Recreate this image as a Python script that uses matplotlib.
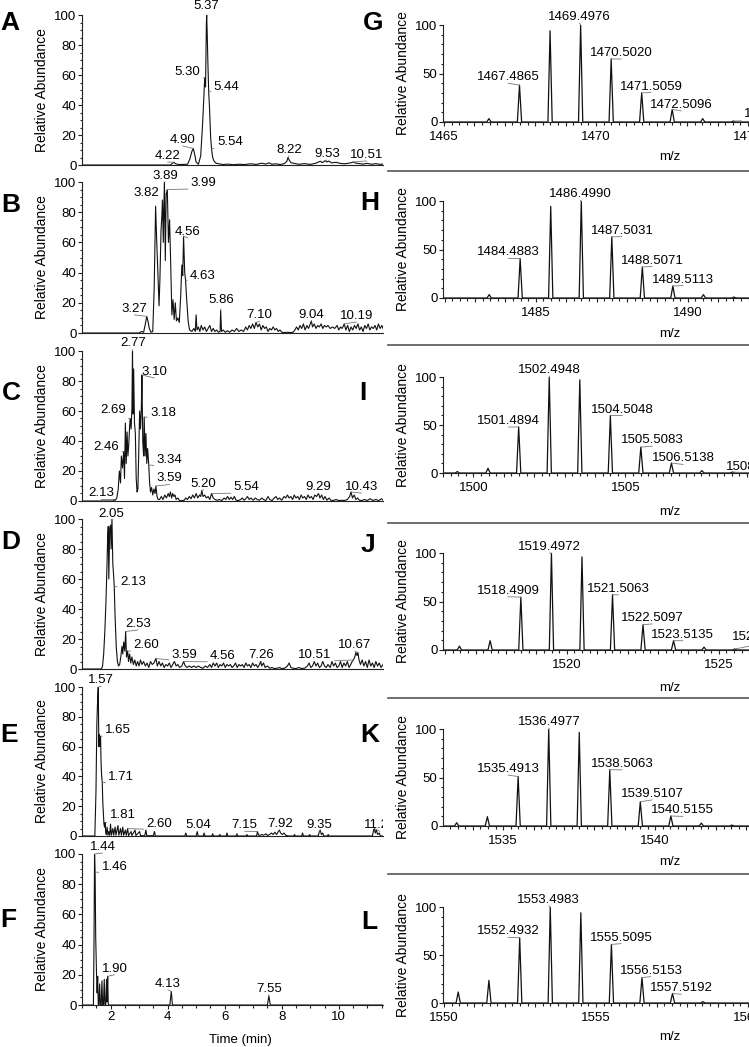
import numpy as np
import matplotlib.pyplot as plt
from matplotlib.ticker import MultipleLocator, FuncFormatter
from matplotlib.patches import Rectangle
from matplotlib.lines import Line2D

plt.rcParams['font.family'] = ['Liberation Sans', 'DejaVu Sans']

W, H = 749, 1047

# ---------------- chromatograms: time (min) / relative abundance ----------------
a_t = [1.00, 4.10, 4.16, 4.22, 4.28, 4.40, 4.70, 4.78, 4.85, 4.90, 4.95, 5.00, 5.08, 5.16, 5.22,
       5.27, 5.30, 5.33, 5.36, 5.37, 5.39, 5.41, 5.44, 5.47, 5.51, 5.54, 5.58, 5.63, 5.70, 5.80,
       5.95, 6.10, 6.30, 6.50, 6.70, 6.90, 7.10, 7.30, 7.45, 7.55, 7.65, 7.80, 7.95, 8.10, 8.18,
       8.22, 8.27, 8.33, 8.45, 8.60, 8.80, 9.00, 9.20, 9.35, 9.42, 9.48, 9.53, 9.58, 9.65, 9.75,
       9.90, 10.05, 10.20, 10.35, 10.45, 10.51, 10.58, 10.70, 10.85, 11.00, 11.15, 11.30, 11.45, 11.55]
a_y = [0, 0, 1, 1.8, 0.8, 0.3, 0.5, 4, 9, 11, 7, 2, 0.5, 6, 25,
       45, 58, 52, 95, 100, 87, 70, 49, 38, 18, 11, 5, 2.5, 1.2, 0.8,
       0.3, 0.6, 0.2, 0.5, 0.3, 0.8, 0.4, 1.2, 0.6, 1.5, 0.5, 0.8, 0.3, 1.0, 2.5,
       5, 3, 1.5, 1.0, 0.5, 0.9, 0.4, 1.2, 2.5, 1.6, 2.2, 3, 2.0, 2.6, 1.4,
       1.8, 1.1, 0.8, 1.2, 1.6, 2.0, 1.3, 1.0, 0.6, 1.1, 0.5, 0.9, 0.4, 0.7]

b_t = [1.00, 3.00, 3.08, 3.16, 3.22, 3.27, 3.31, 3.36, 3.42, 3.48, 3.53, 3.58, 3.62, 3.66, 3.70,
       3.73, 3.77, 3.80, 3.82, 3.85, 3.87, 3.89, 3.92, 3.95, 3.99, 4.03, 4.07, 4.11, 4.15, 4.19,
       4.23, 4.27, 4.31, 4.36, 4.41, 4.46, 4.50, 4.53, 4.56, 4.60, 4.63, 4.67, 4.72, 4.77,
       4.85, 4.92, 4.97, 5.00, 5.03, 5.08, 5.13, 5.18, 5.24, 5.30, 5.36, 5.42, 5.48, 5.54, 5.60,
       5.66, 5.72, 5.78, 5.84, 5.86, 5.89, 5.95, 6.02, 6.10, 6.18, 6.26, 6.34, 6.42, 6.50, 6.58,
       6.66, 6.74, 6.80, 6.86, 6.92, 6.98, 7.04, 7.10, 7.16, 7.22, 7.28, 7.34, 7.40, 7.46, 7.52,
       7.58, 7.64, 7.70, 7.76, 7.82, 7.88, 7.94, 8.00, 8.10, 8.20, 8.30, 8.40, 8.46, 8.52, 8.58,
       8.64, 8.70, 8.76, 8.82, 8.88, 8.94, 9.00, 9.04, 9.08, 9.14, 9.20, 9.26, 9.32, 9.38, 9.44,
       9.50, 9.56, 9.62, 9.70, 9.78, 9.86, 9.94, 10.00, 10.06, 10.12, 10.19, 10.25, 10.31, 10.37,
       10.43, 10.49, 10.55, 10.61, 10.67, 10.73, 10.79, 10.85, 10.91, 10.97, 11.03, 11.09, 11.15,
       11.21, 11.27, 11.33, 11.39, 11.45, 11.51, 11.55]
b_y = [0, 0, 1, 0.5, 6, 11, 8, 3, 0.5, 1, 30, 84, 60, 40, 18,
       35, 68, 78, 88, 60, 85, 100, 48, 92, 95, 60, 75, 45, 12, 22,
       9, 20, 8, 10, 7, 25, 45, 38, 64, 40, 35, 22, 8, 2,
       1, 3, 1, 12, 2, 4, 1, 5, 2, 4, 1, 3, 5, 1, 3,
       1, 2, 0.5, 1, 15, 1, 2, 0.5, 1.5, 0.5, 2, 1, 3, 1, 2,
       1, 4, 2, 5, 3, 6, 3, 7, 4, 6, 2, 5, 3, 4, 1,
       3, 2, 4, 2, 3, 1, 2, 0.5, 0.3, 0.5, 0.3, 0.5, 2, 4, 2,
       5, 3, 6, 2, 5, 3, 6, 8, 4, 6, 3, 5, 4, 6, 3,
       5, 4, 5, 3, 4, 3, 5, 2, 4, 3, 6, 2, 5, 1,
       4, 2, 5, 3, 6, 2, 4, 1, 5, 3, 6, 2, 4,
       3, 5, 2, 6, 3, 5, 3]

c_t = [1.00, 2.10, 2.13, 2.17, 2.22, 2.27, 2.31, 2.35, 2.38, 2.42, 2.46, 2.49, 2.52, 2.55, 2.58,
       2.61, 2.64, 2.67, 2.69, 2.72, 2.75, 2.77, 2.79, 2.81, 2.84, 2.87, 2.90, 2.93, 2.96, 2.99,
       3.02, 3.05, 3.08, 3.10, 3.13, 3.16, 3.18, 3.21, 3.24, 3.27, 3.30, 3.34, 3.37, 3.40, 3.44,
       3.48, 3.52, 3.56, 3.59, 3.63, 3.67,
       3.72, 3.78, 3.84, 3.90, 3.96, 4.02, 4.06, 4.10, 4.14, 4.18, 4.22, 4.26, 4.30, 4.36, 4.42,
       4.50, 4.58, 4.64, 4.70, 4.76, 4.82, 4.88, 4.94, 5.00, 5.06, 5.12, 5.16, 5.20, 5.24, 5.30,
       5.36, 5.42, 5.48, 5.54, 5.60, 5.66, 5.74, 5.82, 5.90, 5.98, 6.04, 6.10, 6.16, 6.22, 6.28,
       6.34, 6.40, 6.48, 6.56, 6.62, 6.68, 6.74, 6.80, 6.86, 6.92, 7.00, 7.08, 7.14, 7.22, 7.30,
       7.36, 7.44, 7.52, 7.58, 7.66, 7.74, 7.80, 7.86, 7.92, 8.00, 8.08, 8.14, 8.20, 8.26, 8.32,
       8.38, 8.44, 8.50, 8.56, 8.62, 8.68, 8.74, 8.80, 8.86, 8.92, 8.98, 9.04, 9.10, 9.16, 9.22,
       9.29, 9.34, 9.40, 9.46, 9.52, 9.58, 9.66, 9.72, 9.80, 9.90, 10.00, 10.10, 10.20, 10.30,
       10.38, 10.43, 10.48, 10.54, 10.60, 10.66, 10.72, 10.80, 10.90, 11.00, 11.10, 11.20, 11.30,
       11.40, 11.50, 11.55]
c_y = [0, 0, 1, 0.5, 2, 8, 20, 12, 30, 22, 33, 15, 52, 25, 46,
       30, 38, 50, 55, 48, 62, 100, 58, 88, 52, 45, 15, 6, 8, 35,
       60, 48, 62, 84, 40, 30, 56, 30, 45, 25, 35, 24, 12, 6, 9,
       4, 8, 5, 10, 3, 1,
       1, 3, 1, 4, 2, 5, 3, 6, 2, 5, 3, 4, 1, 2, 0.3,
       0.2, 0.5, 2, 1, 3, 1.5, 4, 2, 5, 2, 4, 3, 7, 3, 4,
       2, 3, 1, 5, 2, 1, 0.5, 1, 0.3, 2, 1, 3, 1, 2.5, 1,
       3, 0.5, 0.3, 1, 2, 0.5, 1.5, 3, 1, 2, 0.5, 2, 1, 0.5, 2,
       1, 0.3, 3, 1, 0.3, 2, 3, 1, 2, 0.5, 3, 2, 4, 2, 3,
       1, 4, 2, 3, 1, 4, 2, 3, 1, 4, 2, 3, 1, 4, 3,
       5, 2, 4, 1, 3, 0.5, 2, 0.5, 0.3, 1, 0.3, 0.5, 0.3, 1,
       3, 6, 2, 4, 1, 2, 0.5, 0.3, 1, 0.3, 1.5, 0.3, 1,
       0.3, 1.5, 0.5]

d_t = [1.00, 1.68, 1.72, 1.76, 1.80, 1.84, 1.87, 1.90, 1.92, 1.94, 1.97, 2.00, 2.02, 2.05, 2.08,
       2.11, 2.13, 2.16, 2.20, 2.24, 2.28, 2.32, 2.36, 2.40, 2.43, 2.46, 2.50, 2.53, 2.56, 2.60,
       2.63, 2.67, 2.71, 2.75, 2.80, 2.85, 2.90,
       2.95, 3.00, 3.05, 3.10, 3.16, 3.22, 3.28, 3.34, 3.40, 3.46, 3.52, 3.59, 3.64, 3.70, 3.76,
       3.82, 3.88, 3.94, 4.00, 4.06, 4.12, 4.18, 4.24, 4.30, 4.36, 4.42, 4.50, 4.56, 4.62, 4.68,
       4.76, 4.84, 4.92, 5.00, 5.08, 5.16, 5.24, 5.32, 5.40, 5.48, 5.54, 5.60, 5.66, 5.72, 5.78,
       5.84, 5.90, 5.96, 6.02, 6.08, 6.14, 6.20, 6.26, 6.32, 6.38, 6.44, 6.50, 6.56, 6.62, 6.68,
       6.74, 6.80, 6.86, 6.92, 6.98, 7.04, 7.10, 7.16, 7.22, 7.26, 7.30, 7.36, 7.42, 7.50, 7.58,
       7.66, 7.74, 7.84, 7.92, 8.00, 8.10, 8.20, 8.26, 8.32, 8.40, 8.50, 8.60, 8.70, 8.80, 8.90,
       8.96, 9.02, 9.08, 9.14, 9.20, 9.26, 9.32, 9.38, 9.44, 9.50, 9.56, 9.62, 9.70, 9.76, 9.82,
       9.88, 9.94, 10.00, 10.06, 10.12, 10.18, 10.24, 10.30, 10.36, 10.42, 10.47, 10.51, 10.56,
       10.60, 10.64, 10.67, 10.71, 10.76, 10.82, 10.88, 10.94, 11.00, 11.06, 11.12, 11.18, 11.24,
       11.30, 11.36, 11.42, 11.48, 11.55]
d_y = [0, 0, 2, 10, 25, 45, 65, 88, 95, 60, 94, 96, 80, 100, 70,
       62, 55, 35, 15, 5, 2, 3, 8, 15, 10, 18, 12, 25, 8, 12,
       5, 10, 4, 8, 3, 6, 2,
       5, 2, 6, 3, 5, 2, 4, 1, 5, 3, 4, 7, 2, 5, 2,
       4, 1, 3, 2, 4, 1, 3, 5, 2, 3, 1, 2, 5, 2, 1,
       2, 1, 2, 1, 2, 1, 0.5, 2, 1, 3, 1, 4, 2, 4, 1,
       3, 2, 4, 1, 3, 2, 3, 1, 2, 4, 1, 3, 2, 3, 1,
       4, 2, 3, 1, 4, 2, 3, 1, 3, 5, 2, 4, 1, 2, 0.5,
       1, 0.3, 0.5, 1, 0.3, 0.5, 2, 4, 1, 0.5, 0.3, 1, 0.3, 0.5, 2,
       4, 1, 2, 5, 2, 4, 1, 2, 5, 2, 1, 3, 1, 5, 2,
       4, 1, 2, 5, 1, 4, 2, 5, 1, 3, 5, 6, 8,
       11, 9, 11, 6, 3, 6, 2, 5, 1, 6, 2, 4, 1,
       5, 2, 4, 1, 3]

e_t = [1.00, 1.45, 1.49, 1.52, 1.55, 1.57, 1.59, 1.61, 1.63, 1.65, 1.67, 1.69, 1.71, 1.73, 1.75,
       1.77, 1.79, 1.81, 1.83, 1.85,
       1.88, 1.91, 1.94, 1.97, 2.00, 2.03, 2.08, 2.11, 2.16, 2.19, 2.26, 2.29, 2.35, 2.38, 2.43,
       2.46, 2.52, 2.55, 2.60, 2.63, 2.72, 2.75, 2.86, 2.89, 3.02, 3.05, 3.20, 3.24, 3.27, 3.50,
       3.54, 3.57, 4.60, 4.64, 4.67, 5.00, 5.04, 5.07, 5.25, 5.28, 5.31, 5.55, 5.58, 5.61, 5.80,
       5.83, 5.86, 6.05, 6.08, 6.11, 6.40, 6.43, 6.46, 6.75, 6.78, 6.81, 7.12, 7.15, 7.19, 7.25,
       7.30, 7.36, 7.45, 7.50, 7.58, 7.64, 7.70, 7.76, 7.82, 7.88, 7.92, 7.96, 8.02, 8.08, 8.14,
       8.25, 8.42, 8.45, 8.48, 8.70, 8.73, 8.76, 8.95, 8.98, 9.01, 9.28, 9.32, 9.35, 9.39, 9.44,
       9.47, 9.60, 9.63, 9.66, 11.18, 11.22, 11.25, 11.28, 11.32, 11.36, 11.42, 11.46, 11.55]
e_y = [0, 0, 30, 75, 93, 100, 60, 68, 60, 67, 48, 40, 36, 22, 15,
       8, 6, 9, 3, 1,
       6, 0.5, 3, 0.5, 8, 0.5, 5, 0.5, 6, 0.5, 7, 0.5, 5, 0.5, 6,
       0.5, 4, 0.5, 5, 0.3, 3, 0.3, 4, 0.3, 3, 0.2, 0.2, 4, 0.2, 0.2,
       3, 0, 0, 2, 0, 0, 3, 0, 0, 2, 0, 0, 1.5, 0, 0,
       1, 0, 0, 2, 0, 0, 1.5, 0, 0, 1, 0, 0, 3, 0.5, 0.5,
       1, 0.5, 1.5, 0.3, 1, 2, 1, 2.5, 1, 3, 4, 2, 1, 2, 0.5,
       0, 0, 1, 0, 0, 2, 0, 0, 1, 0, 0, 3, 4, 1, 2,
       0, 0, 1, 0, 0, 4, 5, 2, 4, 1, 2, 0, 0]

f_t = [1.00, 1.40, 1.42, 1.44, 1.46, 1.48, 1.51, 1.53, 1.55, 1.57, 1.59, 1.62, 1.64, 1.67, 1.70,
       1.72, 1.75, 1.78, 1.80, 1.83, 1.86, 1.88, 1.90, 1.92, 1.95, 4.08, 4.13, 4.17, 7.50, 7.55,
       7.60, 11.55]
f_y = [0, 0, 40, 100, 88, 45, 20, 8, 19, 0.5, 0, 14, 0.5, 0, 16,
       0.5, 0, 17, 0.5, 0, 17, 2, 19, 0.5, 0, 0, 9, 0, 0, 6,
       0, 0]

# labelled retention times for each chromatogram
a_pk = [5.37, 5.30, 5.44, 4.90, 5.54, 4.22, 8.22, 9.53, 10.51]
b_pk = [3.89, 3.82, 3.99, 4.56, 4.63, 3.27, 5.86, 7.10, 9.04, 10.19]
c_pk = [2.77, 3.10, 2.69, 3.18, 2.46, 3.34, 3.59, 2.13, 5.20, 5.54, 9.29, 10.43]
d_pk = [2.05, 2.13, 2.53, 2.60, 3.59, 4.56, 7.26, 10.51, 10.67]
e_pk = [1.57, 1.65, 1.71, 1.81, 2.60, 5.04, 7.15, 7.92, 9.35, 11.25]
f_pk = [1.44, 1.46, 1.90, 4.13, 7.55]

# where each label text sits (time, abundance of text baseline)
a_lab = [(5.37, 104), (4.70, 60), (6.07, 50), (4.53, 14.7), (6.18, 13.3), (4.00, 4),
         (8.25, 8), (9.58, 5.3), (10.98, 4.7)]
b_lab = [(3.92, 102), (3.25, 91), (5.26, 97.5), (4.71, 65), (5.24, 36), (2.84, 14),
         (5.88, 19.7), (7.23, 9.7), (9.04, 9.7), (10.62, 9.3)]
c_lab = [(2.78, 103), (3.54, 84), (2.08, 58.5), (3.84, 57), (1.85, 34), (4.07, 25),
         (4.07, 13), (1.67, 3), (5.26, 9.5), (6.76, 7.3), (9.27, 7.3), (10.80, 7.3)]
d_lab = [(2.02, 101.5), (2.78, 56), (2.96, 28), (3.25, 13.8), (4.60, 7), (5.94, 6.7),
         (7.29, 7), (9.16, 7), (10.56, 13.8)]
e_lab = [(1.67, 102.5), (2.26, 69), (2.37, 37.6), (2.43, 12), (3.72, 6.2), (5.06, 5.2),
         (6.70, 5.2), (7.93, 6.2), (9.33, 5.2), (11.44, 5.2)]
f_lab = [(1.72, 102.6), (2.14, 89.4), (2.14, 22), (4.01, 12), (7.55, 8.8)]

# ---------------- mass spectra: m/z / relative abundance ----------------
g_mz = [1466.48, 1467.4865, 1468.4920, 1469.4976, 1470.5020, 1471.5059, 1472.5096, 1473.5131, 1474.5168]
g_in = [3.5, 38, 94, 100, 65, 30, 13, 3.5, 1]
h_mz = [1483.47, 1484.4883, 1485.4935, 1486.4990, 1487.5031, 1488.5071, 1489.5113, 1490.5150, 1491.52]
h_in = [3.5, 40.6, 94.5, 100, 63, 32, 12.4, 3.5, 1]
i_mz = [1499.47, 1500.48, 1501.4894, 1502.4948, 1503.4998, 1504.5048, 1505.5083, 1506.5138, 1507.5170, 1508.5210]
i_in = [1.5, 5, 48, 100, 97, 60, 27, 10.4, 2.5, 1]
j_mz = [1516.47, 1517.48, 1518.4909, 1519.4972, 1520.5020, 1521.5063, 1522.5097, 1523.5135, 1524.5170, 1525.5210]
j_in = [4, 9.6, 54.5, 100, 96, 57, 26, 9.6, 3, 1]
k_mz = [1533.47, 1534.48, 1535.4913, 1536.4977, 1537.5020, 1538.5063, 1539.5107, 1540.5155, 1541.5190, 1542.52]
k_in = [3.4, 9.6, 51, 100, 96.5, 58, 25, 10.3, 3, 1]
l_mz = [1550.47, 1551.48, 1552.4932, 1553.4983, 1554.5040, 1555.5095, 1556.5153, 1557.5192, 1558.52]
l_in = [11.5, 23.6, 68, 100, 94, 61, 26.5, 10, 1.5]

# labelled m/z values and where their text sits (m/z, abundance of text baseline)
g_pk = [1467.4865, 1469.4976, 1470.5020, 1471.5059, 1472.5096, 1474.5168]
g_lab = [(1467.11, 43), (1469.46, 105), (1470.83, 68), (1471.81, 33.5), (1472.81, 14.5), (1475.92, 5)]
h_pk = [1484.4883, 1486.4990, 1487.5031, 1488.5071, 1489.5113]
h_lab = [(1484.10, 44), (1486.46, 104), (1487.84, 66.4), (1488.83, 35.5), (1489.84, 15.9)]
i_pk = [1501.4894, 1502.4948, 1504.5048, 1505.5083, 1506.5138, 1508.5210]
i_lab = [(1501.16, 51), (1502.51, 104), (1504.90, 63), (1505.89, 31), (1506.90, 12), (1509.33, 3)]
j_pk = [1518.4909, 1519.4972, 1521.5063, 1522.5097, 1523.5135, 1525.5210]
j_lab = [(1518.07, 58), (1519.43, 103), (1521.70, 60), (1522.81, 30), (1523.82, 12.7), (1526.46, 9.8)]
k_pk = [1535.4913, 1536.4977, 1538.5063, 1539.5107, 1540.5155]
k_lab = [(1535.17, 55.5), (1536.52, 104), (1538.91, 61), (1539.90, 30), (1540.91, 13)]
l_pk = [1552.4932, 1553.4983, 1555.5095, 1556.5153, 1557.5192]
l_lab = [(1552.11, 71.5), (1553.45, 104.5), (1555.83, 65), (1556.81, 30.6), (1557.81, 12.2)]
spec_xmin = [1464.97, 1481.95, 1499.0, 1515.93, 1533.02, 1549.97]

# ---------------- layout (pixels) ----------------
left_top = [15, 182, 351, 519, 687, 854]
left_bot = [165, 333, 501, 669, 836, 1005]
right_top = [25, 201, 377, 553, 729, 907]
right_bot = [122, 298, 473, 650, 826, 1003]
left_letter = [('A', 10, 23), ('B', 11, 205), ('C', 11, 393), ('D', 11, 542), ('E', 9, 735), ('F', 8, 920)]
right_letter = [('G', 373, 23), ('H', 370, 203), ('I', 363, 393), ('J', 368, 545), ('K', 370, 735), ('L', 369, 922)]
mz_label_y = [157, 334, 512, 688, 862, 1037]
sep_y = [171, 345, 523, 698, 874]
PX_PER_MZ = 30.4
FS = 9.5

fig = plt.figure(figsize=(W / 100, H / 100), dpi=100)


def px_axes(x0, top, x1, bot):
    return fig.add_axes([x0 / W, 1 - bot / H, (x1 - x0) / W, (bot - top) / H])


def style(ax):
    for s in ['top', 'right']:
        ax.spines[s].set_visible(False)
    for s in ['left', 'bottom']:
        ax.spines[s].set_linewidth(0.8)
        ax.spines[s].set_color('#222222')
    ax.tick_params(which='both', direction='out', color='#222222', width=0.8, labelsize=FS)
    ax.tick_params(axis='y', which='major', length=3, pad=1)
    ax.tick_params(axis='y', which='minor', length=1.6)


def label_peaks(ax, peaks, heights, pos, fmt, clip=None):
    for p, hgt, (lx, ly) in zip(peaks, heights, pos):
        a = ax.annotate(fmt.format(p), xy=(p, hgt), xytext=(lx, ly), ha='center', va='baseline',
                        fontsize=FS, annotation_clip=False,
                        arrowprops=dict(arrowstyle='-', color='#777777', lw=0.6,
                                        shrinkA=0, shrinkB=0, relpos=(0.5, 0)))
        if clip is not None:
            a.set_clip_path(clip)


chroms = [(a_t, a_y, a_pk, a_lab), (b_t, b_y, b_pk, b_lab), (c_t, c_y, c_pk, c_lab),
          (d_t, d_y, d_pk, d_lab), (e_t, e_y, e_pk, e_lab), (f_t, f_y, f_pk, f_lab)]

for i, (t, y, pk, lab) in enumerate(chroms):
    ax = px_axes(82, left_top[i], 383, left_bot[i])
    style(ax)
    ax.plot(t, y, color='#111111', lw=0.8)
    ax.set_xlim(1.0, 11.55)
    ax.set_ylim(0, 100)
    ax.yaxis.set_major_locator(MultipleLocator(20))
    ax.yaxis.set_minor_locator(MultipleLocator(5))
    # labels past the right edge get cut, like the original
    clip = Rectangle((0, -0.2), 1, 1.5, transform=ax.transAxes)
    label_peaks(ax, pk, np.interp(pk, t, y), lab, '{:.2f}', clip=clip)
    if i < 5:
        ax.tick_params(axis='x', which='both', bottom=False, labelbottom=False)
    else:
        ax.xaxis.set_major_locator(MultipleLocator(2))
        ax.xaxis.set_minor_locator(MultipleLocator(0.5))
        ax.tick_params(axis='x', which='major', length=3, pad=1.5)
        ax.tick_params(axis='x', which='minor', length=2)
    fig.text(42 / W, 1 - (left_top[i] + left_bot[i]) / 2 / H, 'Relative Abundance',
             rotation=90, ha='center', va='center', fontsize=10)

spectra = [(g_mz, g_in, g_pk, g_lab), (h_mz, h_in, h_pk, h_lab), (i_mz, i_in, i_pk, i_lab),
           (j_mz, j_in, j_pk, j_lab), (k_mz, k_in, k_pk, k_lab), (l_mz, l_in, l_pk, l_lab)]

hw = 0.07  # half width of a profile peak
for i, (mz, inten, pk, lab) in enumerate(spectra):
    lo = spec_xmin[i]
    hi = lo + 11
    ax = px_axes(443, right_top[i], 443 + 11 * PX_PER_MZ, right_bot[i])
    style(ax)
    xs, ys = [lo], [0]
    for m, v in zip(mz, inten):
        xs += [m - hw, m, m + hw]
        ys += [0, v, 0]
    xs.append(hi)
    ys.append(0)
    ax.plot(xs, ys, color='#111111', lw=0.9)
    ax.set_xlim(lo, hi)
    ax.set_ylim(0, 100)
    ax.yaxis.set_major_locator(MultipleLocator(50))
    ax.yaxis.set_minor_locator(MultipleLocator(10))
    ax.xaxis.set_major_locator(MultipleLocator(1))
    ax.xaxis.set_minor_locator(MultipleLocator(0.25))
    ax.xaxis.set_major_formatter(FuncFormatter(lambda v, p: '%d' % round(v) if round(v) % 5 == 0 else ''))
    ax.tick_params(axis='x', which='major', length=3.2, pad=3.5)
    ax.tick_params(axis='x', which='minor', length=1.8)
    hts = [inten[int(np.argmin(np.abs(np.array(mz) - p)))] for p in pk]
    label_peaks(ax, pk, hts, lab, '{:.4f}')
    fig.text(403 / W, 1 - (right_top[i] + right_bot[i]) / 2 / H, 'Relative Abundance',
             rotation=90, ha='center', va='center', fontsize=10)
    fig.text(670 / W, 1 - mz_label_y[i] / H, 'm/z', ha='center', va='center', fontsize=FS)

fig.text(240 / W, 1 - 1040 / H, 'Time (min)', ha='center', va='center', fontsize=FS)

for y in sep_y:
    fig.add_artist(Line2D([388 / W, 1.0], [1 - y / H, 1 - y / H], color='#555555', lw=1.2))

for txt, x, y in left_letter + right_letter:
    fig.text(x / W, 1 - y / H, txt, ha='center', va='center', fontsize=19, fontweight='bold')

fig.savefig('out.png', dpi=100)
